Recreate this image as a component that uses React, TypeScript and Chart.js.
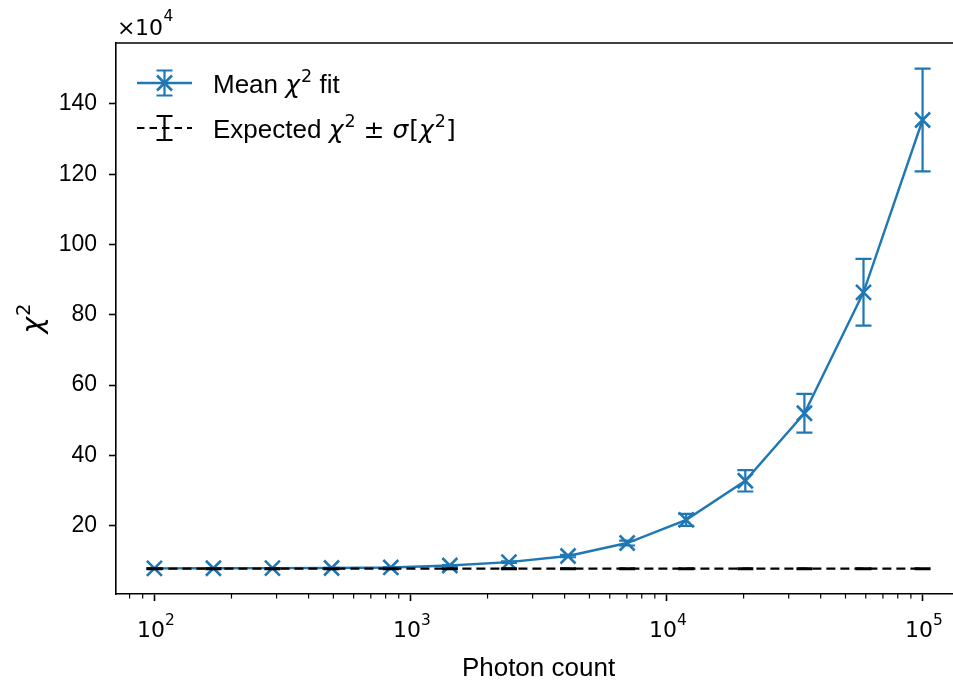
import React, { useEffect, useRef } from 'react';
import { Chart, registerables } from 'chart.js';

Chart.register(...registerables);

// ---------- data ----------
const photonCounts = [100, 170, 289, 492, 838, 1425, 2424, 4125, 7017, 11938, 20309, 34551, 58780, 100000];
// chi^2 values in units of 10^4
const meanChi2 = [7.9, 7.92, 7.95, 8.0, 8.15, 8.7, 9.65, 11.4, 15.1, 21.7, 32.8, 52.0, 86.4, 135.4];
const meanChi2Err = [0.05, 0.05, 0.05, 0.06, 0.08, 0.12, 0.2, 0.35, 0.7, 1.7, 3.05, 5.5, 9.5, 14.6];
const expectedChi2 = [7.8, 7.8, 7.8, 7.8, 7.8, 7.8, 7.8, 7.8, 7.8, 7.8, 7.8, 7.8, 7.8, 7.8];
const expectedChi2Sigma = [0.12, 0.12, 0.12, 0.12, 0.12, 0.12, 0.12, 0.12, 0.12, 0.12, 0.12, 0.12, 0.12, 0.12];

const xMajorTicks = [100, 1000, 10000, 100000];
const xTickBase = '10';
const xTickExponents = ['2', '3', '4', '5'];
const xMinorMultipliers = [2, 3, 4, 5, 6, 7, 8, 9];
const xMinorDecades = [10, 100, 1000, 10000, 100000];
const yTicks = [20, 40, 60, 80, 100, 120, 140];
const yTickLabels = ['20', '40', '60', '80', '100', '120', '140'];
const yOffsetExponent = '4';
const xRange = [70.8, 141250];
const yRange = [0.6, 157.3];

const BLUE = '#1f77b4';
const SANS = '"Liberation Sans", Arial, sans-serif';
const MATH = '"DejaVu Sans", sans-serif';

type Seg = { t: string; italic?: boolean; sup?: boolean; math?: boolean };

function drawRich(ctx: CanvasRenderingContext2D, segs: Seg[], x: number, baseline: number, size: number, mathSize?: number) {
  let cx = x;
  const ms = mathSize ?? size;
  ctx.textAlign = 'left';
  ctx.textBaseline = 'alphabetic';
  for (const s of segs) {
    const base = s.math ? ms : size;
    const fs = s.sup ? base * 0.7 : base;
    const fam = s.math ? MATH : SANS;
    ctx.font = `${s.italic ? 'italic ' : ''}${fs}px ${fam}`;
    const dy = s.sup ? -base * 0.42 : 0;
    ctx.fillText(s.t, cx, baseline + dy);
    cx += ctx.measureText(s.t).width + (s.italic ? base * 0.04 : 0);
  }
  return cx - x;
}

function richWidth(ctx: CanvasRenderingContext2D, segs: Seg[], size: number) {
  let w = 0;
  for (const s of segs) {
    const fs = s.sup ? size * 0.7 : size;
    ctx.font = `${s.italic ? 'italic ' : ''}${fs}px ${s.math ? MATH : SANS}`;
    w += ctx.measureText(s.t).width + (s.italic ? size * 0.04 : 0);
  }
  return w;
}

function drawErrBar(ctx: CanvasRenderingContext2D, x: number, yTop: number, yBot: number, cap: number) {
  ctx.beginPath();
  ctx.moveTo(x, yTop);
  ctx.lineTo(x, yBot);
  ctx.moveTo(x - cap, yTop);
  ctx.lineTo(x + cap, yTop);
  ctx.moveTo(x - cap, yBot);
  ctx.lineTo(x + cap, yBot);
  ctx.stroke();
}

const errorBarPlugin = {
  id: 'errorBars',
  afterDatasetsDraw(chart: any) {
    const ctx = chart.ctx as CanvasRenderingContext2D;
    const xs = chart.scales.x;
    const ys = chart.scales.y;
    const sets = [
      { vals: meanChi2, errs: meanChi2Err, color: BLUE },
      { vals: expectedChi2, errs: expectedChi2Sigma, color: '#000' },
    ];
    ctx.save();
    ctx.lineWidth = 2.2;
    ctx.lineCap = 'butt';
    for (const s of sets) {
      ctx.strokeStyle = s.color;
      photonCounts.forEach((pc, i) => {
        const px = xs.getPixelForValue(pc);
        const yt = ys.getPixelForValue(s.vals[i] + s.errs[i]);
        const yb = ys.getPixelForValue(s.vals[i] - s.errs[i]);
        drawErrBar(ctx, px, yt, yb, 8);
      });
    }
    ctx.restore();
  },
};

const decorPlugin = {
  id: 'decor',
  afterDraw(chart: any) {
    const ctx = chart.ctx as CanvasRenderingContext2D;
    const area = chart.chartArea;
    const xs = chart.scales.x;
    ctx.save();
    // top spine
    ctx.strokeStyle = '#000';
    ctx.lineWidth = 1.6;
    ctx.beginPath();
    ctx.moveTo(area.left - 0.8, area.top);
    ctx.lineTo(area.right + 1, area.top);
    ctx.stroke();
    // minor x ticks
    ctx.lineWidth = 1.2;
    ctx.beginPath();
    for (const d of xMinorDecades) {
      for (const m of xMinorMultipliers) {
        const v = d * m;
        if (v < xRange[0] || v > xRange[1]) continue;
        const px = xs.getPixelForValue(v);
        ctx.moveTo(px, area.bottom);
        ctx.lineTo(px, area.bottom + 4.5);
      }
    }
    ctx.stroke();

    ctx.fillStyle = '#000';
    // exponents of the x tick labels
    ctx.textAlign = 'left';
    ctx.textBaseline = 'alphabetic';
    ctx.font = `15.4px ${MATH}`;
    xMajorTicks.forEach((v, i) => {
      const px = xs.getPixelForValue(v);
      ctx.fillText(xTickExponents[i], px + 10.5, area.bottom + 30.5);
    });

    // offset text x10^4
    ctx.font = `22px ${MATH}`;
    ctx.fillText('×', 117, 35);
    ctx.fillText('10', 135, 35);
    ctx.font = `15.4px ${MATH}`;
    ctx.fillText(yOffsetExponent, 163.5, 20.5);

    // y axis title (rotated)
    const ySegs: Seg[] = [
      { t: 'χ', italic: true, math: true },
      { t: '2', sup: true, math: true },
    ];
    const ytSize = 28;
    ctx.save();
    ctx.translate(42, (area.top + area.bottom) / 2);
    ctx.rotate(-Math.PI / 2);
    const yw = richWidth(ctx, ySegs, ytSize);
    drawRich(ctx, ySegs, -yw / 2, 0, ytSize);
    ctx.restore();

    // legend
    const lx0 = 137, lx1 = 192, mx = 164.5;
    const r1 = 83, r2 = 128;
    // row 1
    ctx.strokeStyle = BLUE;
    ctx.lineWidth = 2.4;
    ctx.beginPath();
    ctx.moveTo(lx0, r1);
    ctx.lineTo(lx1, r1);
    ctx.stroke();
    ctx.lineWidth = 2.2;
    drawErrBar(ctx, mx, r1 - 12.5, r1 + 12.5, 8);
    ctx.lineWidth = 2.6;
    ctx.beginPath();
    ctx.moveTo(mx - 7.5, r1 - 7.5);
    ctx.lineTo(mx + 7.5, r1 + 7.5);
    ctx.moveTo(mx - 7.5, r1 + 7.5);
    ctx.lineTo(mx + 7.5, r1 - 7.5);
    ctx.stroke();
    // row 2
    ctx.strokeStyle = '#000';
    ctx.lineWidth = 2.2;
    ctx.setLineDash([7.5, 5]);
    ctx.beginPath();
    ctx.moveTo(lx0, r2);
    ctx.lineTo(lx1, r2);
    ctx.stroke();
    ctx.setLineDash([]);
    drawErrBar(ctx, mx, r2 - 12, r2 + 12, 8);

    ctx.fillStyle = '#000';
    const fs = 26;
    drawRich(ctx, [
      { t: 'Mean ' },
      { t: 'χ', italic: true, math: true },
      { t: '2', sup: true, math: true },
      { t: ' fit' },
    ], 213, r1 + 9.5, fs, 25);
    drawRich(ctx, [
      { t: 'Expected ' },
      { t: 'χ', italic: true, math: true },
      { t: '2', sup: true, math: true },
      { t: ' ± ', math: true },
      { t: 'σ', italic: true, math: true },
      { t: '[', math: true },
      { t: 'χ', italic: true, math: true },
      { t: '2', sup: true, math: true },
      { t: ']', math: true },
    ], 213, r2 + 9.5, fs, 25);
    ctx.restore();
  },
};

export default function App() {
  const ref = useRef<HTMLCanvasElement | null>(null);

  useEffect(() => {
    if (!ref.current) return;
    const chart = new Chart(ref.current, {
      type: 'line',
      data: {
        labels: photonCounts,
        datasets: [
          {
            label: 'Mean χ² fit',
            data: photonCounts.map((x, i) => ({ x, y: meanChi2[i] })),
            borderColor: BLUE,
            backgroundColor: BLUE,
            borderWidth: 2.4,
            pointStyle: 'crossRot',
            pointRadius: 10.6,
            pointBorderWidth: 2.6,
            pointBorderColor: BLUE,
            tension: 0,
            order: 1,
            clip: false,
          },
          {
            label: 'Expected χ² ± σ[χ²]',
            data: photonCounts.map((x, i) => ({ x, y: expectedChi2[i] })),
            borderColor: '#000',
            backgroundColor: '#000',
            borderWidth: 2.2,
            borderDash: [9, 5],
            pointRadius: 0,
            tension: 0,
            order: 0,
          },
        ],
      },
      options: {
        animation: false,
        responsive: false,
        devicePixelRatio: 1,
        layout: { autoPadding: false, padding: { left: 0, top: 43, right: 0, bottom: 0 } },
        plugins: {
          legend: { display: false },
          tooltip: { enabled: false },
        },
        scales: {
          x: {
            type: 'logarithmic',
            min: xRange[0],
            max: xRange[1],
            bounds: 'data',
            afterBuildTicks: (s: any) => {
              s.ticks = xMajorTicks.map((v) => ({ value: v }));
            },
            afterFit: (s: any) => {
              s.height = 92;
              s.paddingLeft = 0;
              s.paddingRight = 0;
            },
            ticks: {
              autoSkip: false,
              maxRotation: 0,
              color: '#000',
              padding: 17,
              font: { family: MATH, size: 22 },
              callback: () => xTickBase + ' ',
            },
            grid: { drawOnChartArea: false, drawTicks: true, tickLength: 7, tickColor: '#000', tickWidth: 1.6 },
            border: { display: true, color: '#000', width: 1.6 },
            title: {
              display: true,
              text: 'Photon count',
              color: '#000',
              font: { family: SANS, size: 26 },
              padding: { top: 0, bottom: 2 },
            },
          },
          y: {
            type: 'linear',
            min: yRange[0],
            max: yRange[1],
            bounds: 'data',
            afterBuildTicks: (s: any) => {
              s.ticks = yTicks.map((v) => ({ value: v }));
            },
            afterFit: (s: any) => {
              s.width = 116;
              s.paddingTop = 0;
              s.paddingBottom = 0;
            },
            ticks: {
              color: '#000',
              padding: 12,
              font: { family: SANS, size: 23 },
              callback: (v: any) => {
                const i = yTicks.indexOf(Number(v));
                return i >= 0 ? yTickLabels[i] : '';
              },
            },
            grid: { drawOnChartArea: false, drawTicks: true, tickLength: 7, tickColor: '#000', tickWidth: 1.6 },
            border: { display: true, color: '#000', width: 1.6 },
            title: { display: false },
          },
        },
      },
      plugins: [errorBarPlugin, decorPlugin],
    } as any);
    return () => chart.destroy();
  }, []);

  return (
    <div style={{ position: 'fixed', left: 0, top: 0, width: 953, height: 686, overflow: 'hidden', background: '#fff' }}>
      <canvas ref={ref} width={961} height={686} style={{ display: 'block', width: 961, height: 686 }} />
    </div>
  );
}
